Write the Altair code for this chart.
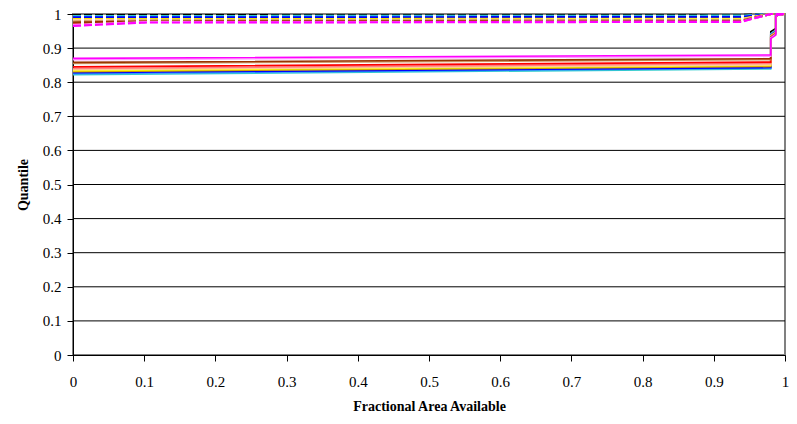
import altair as alt
import pandas as pd

# ---- data ----
colors = ["#000000", "#33CCCC", "#3399FF", "#0000FF", "#CC9900", "#FFFF00",
          "#FFCC99", "#FF8080", "#FF0000", "#CC9966", "#993300", "#FF99FF", "#FF00FF"]

# solid series: x breakpoints and quantile values per series
solid_x = [0.0, 0.98, 0.98, 0.987, 0.987, 1.0]
solid_start = [0.834, 0.822, 0.825, 0.828, 0.831, 0.834, 0.837, 0.840, 0.845, 0.855, 0.858, 0.866, 0.870]
solid_end = [0.846, 0.839, 0.841, 0.843, 0.846, 0.849, 0.851, 0.855, 0.859, 0.866, 0.869, 0.876, 0.880]
solid_jump = [0.948, 0.942, 0.940, 0.938, 0.937, 0.936, 0.935, 0.934, 0.933, 0.932, 0.931, 0.930, 0.928]
solid_step = [0.958, 0.952, 0.950, 0.948, 0.947, 0.946, 0.945, 0.944, 0.943, 0.942, 0.941, 0.940, 0.938]
solid_top = [0.995, 0.995, 0.995, 0.995, 0.995, 0.995, 0.995, 0.995, 0.995, 0.995, 0.995, 0.995, 0.995]

# dashed series
dashed_x = [0.0, 0.1, 0.938, 0.98, 1.0]
dashed_start = [0.997, 0.994, 0.991, 0.990, 0.985, 0.984, 0.982, 0.974, 0.972, 0.978, 0.975, 0.968, 0.965]
dashed_mid = [0.997, 0.994, 0.991, 0.990, 0.985, 0.984, 0.982, 0.977, 0.979, 0.981, 0.978, 0.976, 0.975]
dashed_end = [0.997, 0.995, 0.992, 0.991, 0.986, 0.985, 0.983, 0.978, 0.980, 0.982, 0.979, 0.977, 0.977]
dashed_final = [1.0] * 13

y_ticks = [0, 0.1, 0.2, 0.3, 0.4, 0.5, 0.6, 0.7, 0.8, 0.9, 1.0]
x_ticks = [0, 0.1, 0.2, 0.3, 0.4, 0.5, 0.6, 0.7, 0.8, 0.9, 1.0]

# ---- build long tables ----
names = [f"s{i:02d}" for i in range(len(colors))]
solid_rows = []
for i, n in enumerate(names):
    ys = [solid_start[i], solid_end[i], solid_jump[i], solid_step[i], solid_top[i], 1.0]
    for k, (x, y) in enumerate(zip(solid_x, ys)):
        solid_rows.append({"series": n, "x": x, "y": y, "ord": k})
dashed_rows = []
for i, n in enumerate(names):
    ys = [dashed_start[i], dashed_mid[i], dashed_end[i], dashed_final[i], 1.0]
    for k, (x, y) in enumerate(zip(dashed_x, ys)):
        dashed_rows.append({"series": n, "x": x, "y": y, "ord": k})
solid_df = pd.DataFrame(solid_rows)
dashed_df = pd.DataFrame(dashed_rows)
grid_df = pd.DataFrame({"g": [0.1, 0.2, 0.3, 0.4, 0.5, 0.6, 0.7, 0.8, 0.9]})

FONT = "Liberation Serif"
xscale = alt.Scale(domain=[0, 1], nice=False, zero=False)
yscale = alt.Scale(domain=[0, 1], nice=False, zero=False)
cscale = alt.Scale(domain=names, range=colors)

xaxis = alt.Axis(values=x_ticks, format=".1~f", title="Fractional Area Available",
                 grid=False, tickSize=6, labelPadding=13, titlePadding=10,
                 labelFont=FONT, labelFontSize=15, labelColor="black",
                 titleFont=FONT, titleFontSize=14, titleFontWeight="bold", titleColor="black",
                 domainColor="black", tickColor="black", labelFlush=False)
yaxis = alt.Axis(values=y_ticks, format=".1~f", title="Quantile",
                 grid=False, tickSize=6, labelPadding=6, titlePadding=12,
                 labelFont=FONT, labelFontSize=15, labelColor="black",
                 titleFont=FONT, titleFontSize=14, titleFontWeight="bold", titleColor="black",
                 domainColor="black", tickColor="black")

grid = alt.Chart(grid_df).mark_rule(color="black", strokeWidth=1).encode(
    y=alt.Y("g:Q", scale=yscale, axis=yaxis))

solid = alt.Chart(solid_df).mark_line(strokeWidth=1.6, interpolate="linear").encode(
    x=alt.X("x:Q", scale=xscale, axis=xaxis),
    y=alt.Y("y:Q", scale=yscale, axis=yaxis),
    color=alt.Color("series:N", scale=cscale, legend=None),
    order="ord:Q")

dashed = alt.Chart(dashed_df).mark_line(strokeWidth=2.2, strokeDash=[8, 3]).encode(
    x=alt.X("x:Q", scale=xscale, axis=xaxis),
    y=alt.Y("y:Q", scale=yscale, axis=yaxis),
    color=alt.Color("series:N", scale=cscale, legend=None),
    order="ord:Q")

chart = alt.layer(grid, solid, dashed).properties(
    width=712, height=341,
    autosize=alt.AutoSizeParams(type="none"),
    padding={"left": 65, "top": 6, "right": 4, "bottom": 62},
    background="white",
).configure_view(stroke="#808080", strokeWidth=2)

chart.save("out.html", embed_options={"renderer": "svg", "actions": False})
